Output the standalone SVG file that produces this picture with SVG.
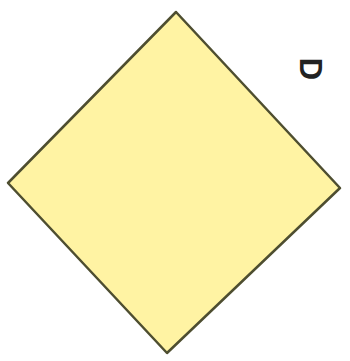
<svg xmlns="http://www.w3.org/2000/svg" width="350" height="361" viewBox="0 0 350 361">
<style>
.shape{fill:#fff3a3;stroke:#4e4e30;stroke-width:2.5;stroke-linejoin:round}
.lbl{font-family:"Liberation Sans",Arial,sans-serif;font-size:31px;font-weight:bold;fill:#222}
</style>
<rect width="350" height="361" fill="#ffffff"/>
<g id="diamond">
<path class="shape" d="M176,12 L340,188 L167,353 L8,183 Z"/>
</g>
<g id="label">
<text class="lbl" transform="translate(310,69) rotate(90)" text-anchor="middle" dominant-baseline="central">D</text>
</g>
</svg>
